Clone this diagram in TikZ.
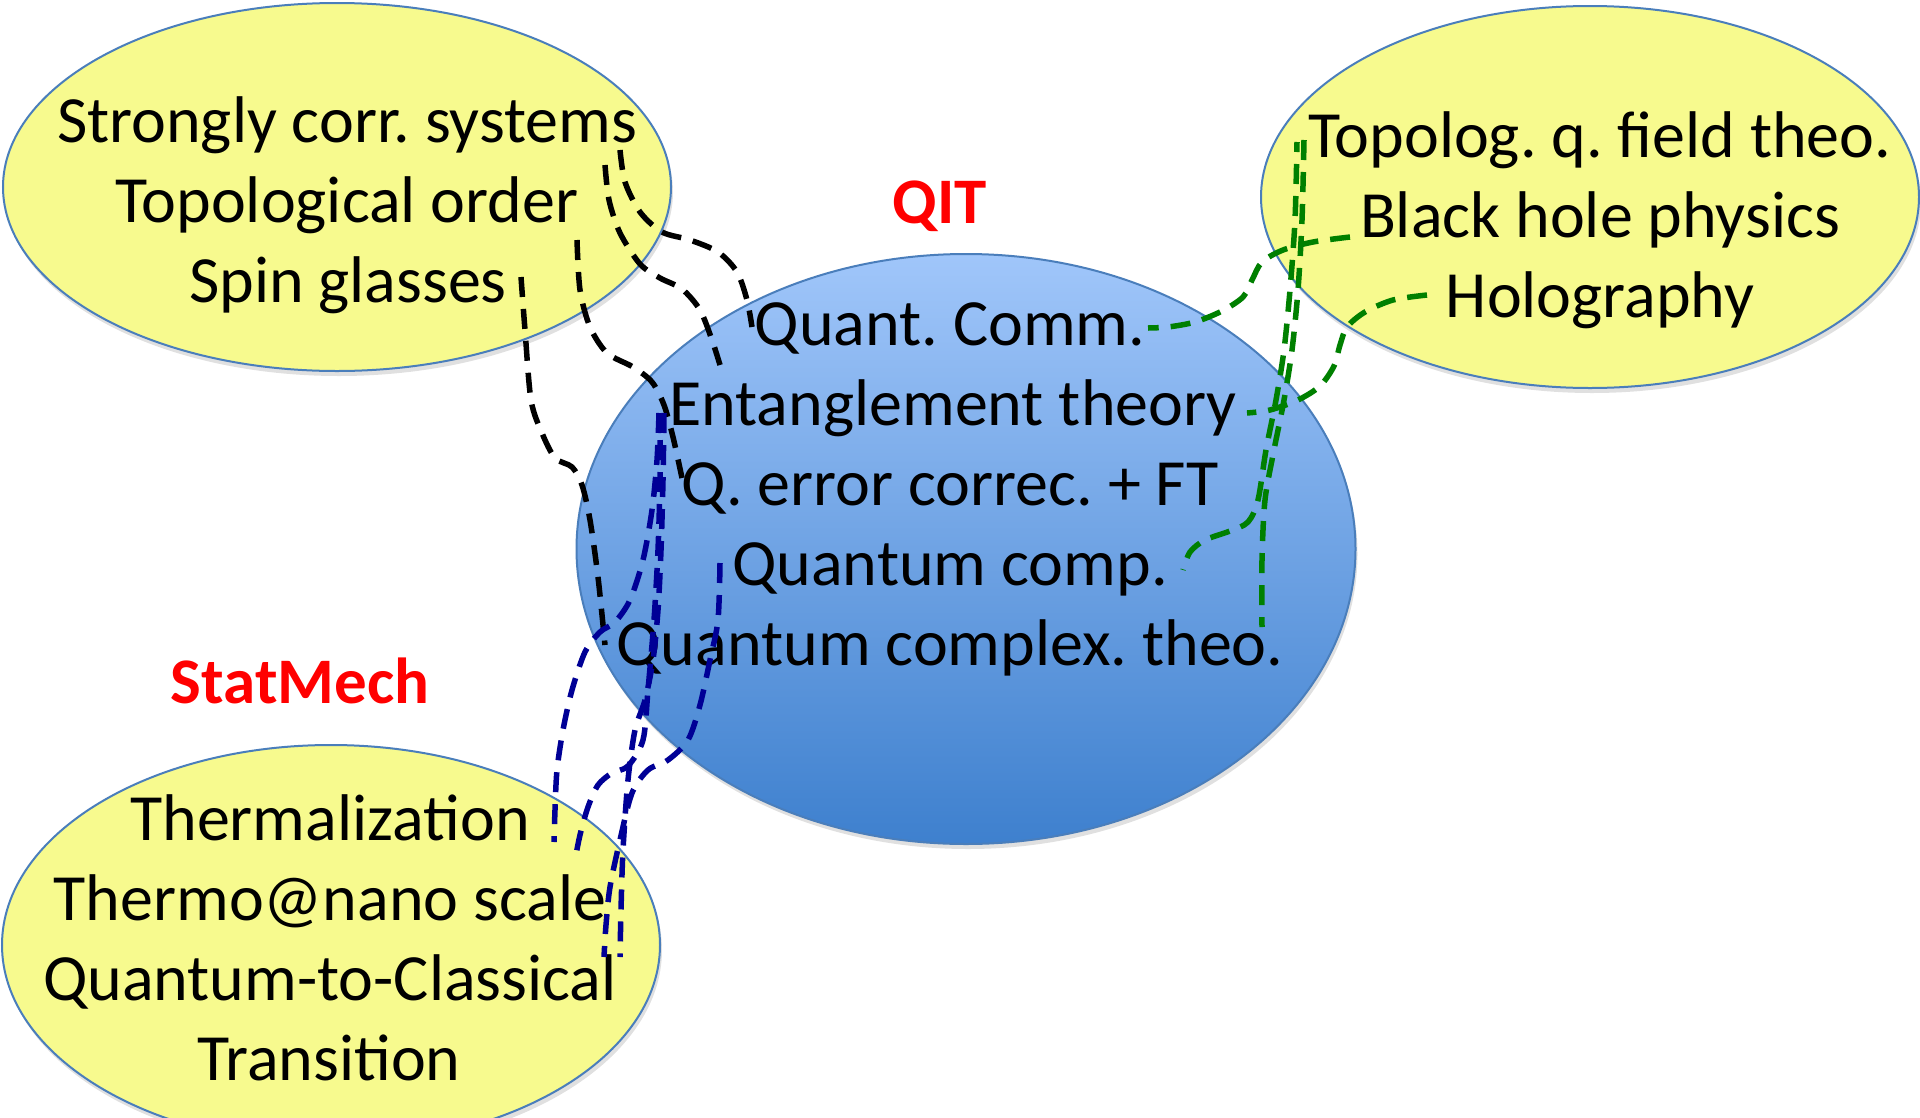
\documentclass[tikz,border=0pt]{standalone}
\usepackage{fontspec}
\setmainfont{Carlito}
\usetikzlibrary{shapes.geometric}
\definecolor{ylw}{RGB}{247,250,142}
\definecolor{rim}{RGB}{74,126,187}
\definecolor{btop}{RGB}{160,198,250}
\definecolor{bbot}{RGB}{62,128,206}
\definecolor{navy}{RGB}{0,0,150}
\definecolor{dgreen}{RGB}{0,128,0}
\frenchspacing
\begin{document}
\begin{tikzpicture}[x=1pt,y=-1pt,
  bubble/.style={ellipse, draw=rim, line width=2pt, inner sep=0pt},
  shade/.style={ellipse, fill=black, opacity=0.12, inner sep=0pt},
  item/.style={anchor=base, inner sep=0pt, font=\fontsize{66}{79}\selectfont},
  head/.style={anchor=base, inner sep=0pt, text=red, font=\fontsize{65}{78}\selectfont\bfseries},
  link/.style={line width=5.5pt, dash pattern=on 20pt off 12pt},
  blk/.style={link, black},
  blu/.style={link, navy},
  grn/.style={link, dgreen}]
\useasboundingbox (0,0) rectangle (1920,1117);
\fill[white] (0,0) rectangle (1920,1117);
% shadows
\node[shade, minimum width=668pt, minimum height=368pt] (tls) at (339,192) {};
\node[shade, minimum width=658pt, minimum height=382pt] (trs) at (1592,202) {};
\node[shade, minimum width=658pt, minimum height=400pt] (bls) at (333,950) {};
\node[shade, minimum width=779pt, minimum height=590pt] (qcs) at (968,554) {};
% bubbles
\node[bubble, fill=ylw, minimum width=668pt, minimum height=368pt] (tl) at (337,187) {};
\node[bubble, fill=ylw, minimum width=658pt, minimum height=382pt] (tr) at (1590,197) {};
\node[bubble, fill=ylw, minimum width=658pt, minimum height=400pt] (bl) at (331,945) {};
\node[bubble, top color=btop, bottom color=bbot, minimum width=779pt, minimum height=590pt] (qc) at (966,549) {};
% headings
\node[head] (qit) at (940,223) {QIT};
\node[head] (sm) at (300,703) {StatMech};
% top-left items
\node[item] (scs) at (347,142) {Strongly corr. systems};
\node[item] (tor) at (347,222) {Topological order};
\node[item] (spg) at (348,302) {Spin glasses};
% top-right items
\node[item] (tqf) at (1600,157) {Topolog. q. field theo.};
\node[item] (bhp) at (1600,237) {Black hole physics};
\node[item] (hol) at (1600,317) {Holography};
% centre items
\node[item] (qcm) at (950,345) {Quant. Comm.};
\node[item] (ent) at (953,425) {Entanglement theory};
\node[item] (qec) at (950,505) {Q. error correc. + FT};
\node[item] (qcp) at (950,585) {Quantum comp.};
\node[item] (qct) at (950,665) {Quantum complex. theo.};
% bottom-left items
\node[item] (thz) at (330,840) {Thermalization};
\node[item] (tns) at (330,920) {Thermo@nano scale};
\node[item] (q2c) at (330,1000) {Quantum-to-Classical};
\node[item] (trn) at (329,1080) {Transition};
% connector end points
\coordinate (k1a) at (620,150); \coordinate (k1b) at (752,327);
\coordinate (k2a) at (605,165); \coordinate (k2b) at (720,365);
\coordinate (k3a) at (577,240); \coordinate (k3b) at (682,478);
\coordinate (k4a) at (521,277); \coordinate (k4b) at (605,645);
\coordinate (g1a) at (1304,140); \coordinate (g1b) at (1262,627);
\coordinate (g4a) at (1297,142); \coordinate (g4b) at (1183,570);
\coordinate (g2a) at (1350,237); \coordinate (g2b) at (1148,328);
\coordinate (g3a) at (1427,295); \coordinate (g3b) at (1247,413);
\coordinate (u1a) at (659,413); \coordinate (u1b) at (554,842);
\coordinate (u2a) at (664,413); \coordinate (u2b) at (620,957);
\coordinate (u3a) at (720,563); \coordinate (u3b) at (604,957);
\coordinate (u4a) at (660,420); \coordinate (u4b) at (575,860);
% black connectors
\draw[blk] plot[smooth] coordinates {(k1a) (625,182) (640,212) (662,232) (690,240) (718,252) (737,272) (747,300) (k1b)};
\draw[blk] plot[smooth] coordinates {(k2a) (609,200) (620,233) (640,264) (660,278) (682,289) (700,310) (712,340) (k2b)};
\draw[blk] plot[smooth] coordinates {(k3a) (580,290) (590,327) (607,353) (633,367) (652,382) (664,405) (673,437) (k3b)};
\draw[blk] plot[smooth] coordinates {(k4a) (525,330) (531,400) (542,433) (555,458) (572,467) (582,485) (590,520) (598,577) (k4b)};
% green connectors
\draw[grn] plot[smooth] coordinates {(g1a) (1302,220) (1298,290) (1292,350) (1284,400) (1274,450) (1265,500) (1262,560) (g1b)};
\draw[grn, dash phase=10pt] plot[smooth] coordinates {(g4a) (1295,220) (1290,290) (1284,350) (1276,400) (1266,450) (1258,500) (1248,522) (1230,531) (1205,540) (1190,552) (g4b)};
\draw[grn] plot[smooth] coordinates {(g2a) (1313,242) (1283,250) (1262,262) (1252,280) (1243,297) (1222,311) (1195,322) (1168,327) (g2b)};
\draw[grn] plot[smooth] coordinates {(g3a) (1393,300) (1365,312) (1347,327) (1340,345) (1334,366) (1320,386) (1298,400) (1270,410) (g3b)};
% blue connectors
\draw[blu] plot[smooth] coordinates {(u1a) (657,460) (652,510) (643,560) (630,600) (615,622) (600,632) (585,652) (572,690) (563,730) (557,770) (555,810) (u1b)};
\draw[blu] plot[smooth] coordinates {(u2a) (663,480) (661,550) (658,610) (653,660) (645,700) (635,730) (628,780) (623,850) (621,910) (u2b)};
\draw[blu] plot[smooth] coordinates {(u3a) (718,620) (710,660) (700,705) (688,740) (668,760) (648,770) (632,793) (620,840) (610,887) (606,925) (u3b)};
\draw[blu, dash phase=12pt] plot[smooth] coordinates {(u4a) (660,480) (658,550) (654,620) (648,690) (643,740) (628,766) (612,773) (598,785) (588,807) (580,835) (u4b)};
\end{tikzpicture}
\end{document}
